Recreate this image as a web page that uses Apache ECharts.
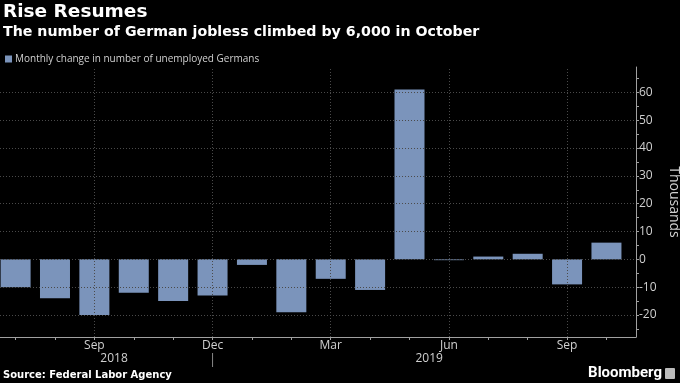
<!DOCTYPE html>
<html>
<head>
<meta charset="utf-8">
<script src="https://cdn.jsdelivr.net/npm/echarts@6/dist/echarts.min.js"></script>
<style>
html,body{margin:0;padding:0;background:#000;}
#c{width:680px;height:383px;}
</style>
</head>
<body>
<div id="c"></div>
<script>
// ---- data ----
const months = ['2018-07','2018-08','2018-09','2018-10','2018-11','2018-12',
                '2019-01','2019-02','2019-03','2019-04','2019-05','2019-06',
                '2019-07','2019-08','2019-09','2019-10'];
const monthNames = ['Jan','Feb','Mar','Apr','May','Jun','Jul','Aug','Sep','Oct','Nov','Dec'];
const changeThousands = [-10,-14,-20,-12,-15,-13,-2,-19,-7,-11,61,-0.3,1,2,-9,6];
const yTicks = [-20,-10,0,10,20,30,40,50,60];
const yAllTicks = [-25,-20,-15,-10,-5,0,5,10,15,20,25,30,35,40,45,50,55,60,65];
const seriesName = 'Monthly change in number of unemployed Germans';

// ---- derived ----
const idx = months.map((m,i)=>i);
const labelIdx = idx.filter(i => parseInt(months[i].slice(5),10) % 3 === 0);
const years = [...new Set(months.map(m=>m.slice(0,4)))];
const yearMid = years.map(y => {
  const ii = idx.filter(i => months[i].startsWith(y));
  return ii.reduce((a,b)=>a+b,0)/ii.length;
});
const yearSep = years.slice(0,-1).map(y => Math.max(...idx.filter(i=>months[i].startsWith(y))));
const sepVals = yearSep.map(i => i + 0.0001);

const xMin = -0.396, xMax = 15.75;
const yMin = -27.9, yMax = 69.1;
const barColor = '#7b94bb';
const gridCol = '#4a4a4a';
const axisCol = '#a0a0a0';
const txtCol = '#d0d0d0';

const chart = echarts.init(document.getElementById('c'), null, {renderer:'canvas'});
chart.setOption({
  backgroundColor: '#000',
  animation: false,
  title: [
    {text:'Rise Resumes', left:3, top:3, padding:0,
     textStyle:{color:'#fff', fontSize:18.5, fontWeight:'bold', fontFamily:'DejaVu Sans'}},
    {text:'The number of German jobless climbed by 6,000 in October', left:3, top:25, padding:0,
     textStyle:{color:'#fff', fontSize:14.2, fontWeight:'bold', fontFamily:'DejaVu Sans'}},
    {text:'Source: Federal Labor Agency', left:3, top:370, padding:0,
     textStyle:{color:'#fff', fontSize:10, fontWeight:'bold', fontFamily:'DejaVu Sans'}},
    {text:'Bloomberg', right:18, top:366, padding:0,
     textStyle:{color:'#fff', fontSize:15, fontWeight:'bold', fontFamily:'Roboto'}}
  ],
  legend: {
    left: 5, top: 54, padding: 0,
    itemWidth: 7, itemHeight: 7, itemGap: 3,
    icon: 'rect',
    textStyle: {color: txtCol, fontSize: 10, fontFamily: 'Open Sans', padding:[0,0,0,-2]},
    data: [seriesName]
  },
  grid: {left:0, right:44, top:67, bottom:46, containLabel:false, outerBoundsMode:'none'},
  xAxis: {
    type:'value', min:xMin, max:xMax, position:'bottom',
    axisLine:{show:true, onZero:false, lineStyle:{color:axisCol, width:1}},
    axisTick:{show:true, customValues: idx, length:3, lineStyle:{color:axisCol}},
    axisLabel:{customValues: labelIdx.concat(yearMid, sepVals), color: txtCol, fontSize:12,
      fontFamily:'Open Sans', margin:3, hideOverlap:false,
      formatter: v => {
        const yi = yearMid.indexOf(v);
        if (yi >= 0) return '{y|' + years[yi] + '}';
        if (sepVals.some(s => Math.abs(s - v) < 1e-6)) return '{gap| }\n{sep| }';
        return monthNames[parseInt(months[Math.round(v)].slice(5),10)-1];
      },
      rich: {
        y: {color: txtCol, fontSize:12, fontFamily:'Open Sans', padding:[13,0,0,0]},
        gap: {fontSize:1, height:13, lineHeight:13, width:1},
        sep: {fontSize:1, height:14, lineHeight:14, width:1, backgroundColor:'#888'}
      }
    },
    splitLine:{show:false}
  },
  yAxis: {
    type:'value', min:yMin, max:yMax, position:'right',
    name:'Thousands', nameLocation:'middle', nameRotate:-90, nameGap:26,
    nameTextStyle:{color:txtCol, fontSize:14, fontFamily:'Open Sans'},
    axisLine:{show:true, onZero:false, lineStyle:{color:axisCol}},
    axisTick:{show:true, customValues:yAllTicks, length:3, lineStyle:{color:axisCol}},
    axisLabel:{customValues:yTicks, color:txtCol, fontSize:12, fontFamily:'Open Sans', margin:3},
    splitLine:{show:false}
  },
  series: [{
    name: seriesName,
    type: 'bar',
    barWidth: 30,
    itemStyle: {color: barColor},
    data: changeThousands.map((v,i)=>[i, v]),
    markLine: {
      silent: true, symbol: 'none', label:{show:false},
      lineStyle: {color: gridCol, type:[1,2], width:1},
      data: labelIdx.map(i => ({xAxis: i})).concat(yTicks.map(v => ({yAxis: v})))
    },
    z: 3
  }],
  graphic: [
    {id:'logo', type:'rect', right:5, top:368, shape:{width:10, height:11, r:1}, style:{fill:'#bbb'}}
  ]
});
</script>
</body>
</html>
